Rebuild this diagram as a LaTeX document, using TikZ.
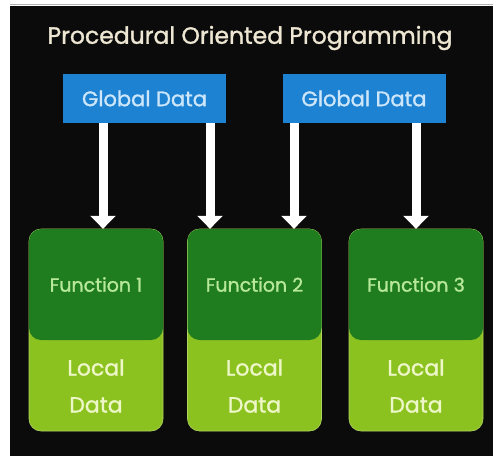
\documentclass[tikz,border=0pt]{standalone}
\usepackage{fontspec}
\setmainfont{Poppins}[FakeBold=1.3]
\usetikzlibrary{arrows.meta}
\definecolor{bgblack}{HTML}{0B0B0B}
\definecolor{gblue}{HTML}{1E82D2}
\definecolor{gbluetext}{HTML}{CDE6FA}
\definecolor{dgreen}{HTML}{1F7D1F}
\definecolor{lgreen}{HTML}{8CC21F}
\definecolor{ftext}{HTML}{B8E89C}
\definecolor{ltext}{HTML}{EEF7C8}
\definecolor{titletext}{HTML}{EDE6D2}
\tikzset{
  titlestyle/.style={text=titletext, font=\fontsize{23.5}{26}\selectfont, inner sep=0pt},
  globalbox/.style={fill=gblue, text=gbluetext, font=\fontsize{21}{24}\selectfont,
    minimum width=163pt, minimum height=49pt, inner sep=0pt},
  funcbox/.style={fill=dgreen, text=ftext, rounded corners=12pt, font=\fontsize{19}{22}\selectfont,
    minimum width=134pt, minimum height=111pt, inner sep=0pt},
  localbox/.style={fill=lgreen, draw=lgreen!70!white, line width=0.6pt, rounded corners=12pt,
    minimum width=134pt, minimum height=202pt, inner sep=0pt},
  localtext/.style={text=ltext, align=center, font=\fontsize{22}{37}\selectfont, inner sep=0pt},
  warrow/.style={draw=white, line width=9pt,
    -{Triangle[width=25pt,length=13pt,fill=white]}, shorten >=0pt}
}
\begin{document}
\begin{tikzpicture}[x=1pt,y=-1pt]
\useasboundingbox (0,0) rectangle (493,456);
\fill[white] (0,0) rectangle (493,456);
\fill[bgblack] (10,6) rectangle (493,456);
\draw[gray!60, line width=1pt] (10,4.5) -- (493,4.5);

\node[titlestyle] (title) at (250,38) {Procedural Oriented Programming};

\node[globalbox] (g1) at (144.5,98.5) {Global Data};
\node[globalbox] (g2) at (364,98.5) {Global Data};

\node[localbox] (l1) at (96,330) {};
\node[localbox] (l2) at (254.5,330) {};
\node[localbox] (l3) at (416,330) {};

\node[funcbox] (f1) at (96,284.5) {Function 1};
\node[funcbox] (f2) at (254.5,284.5) {Function 2};
\node[funcbox] (f3) at (416,284.5) {Function 3};

\node[localtext] (d1) at (96,386) {Local\\Data};
\node[localtext] (d2) at (254.5,386) {Local\\Data};
\node[localtext] (d3) at (416,386) {Local\\Data};

\coordinate (a1) at (103,0);
\coordinate (a2) at (210,0);
\coordinate (a3) at (294,0);
\coordinate (a4) at (416,0);

\draw[warrow] (g1.south -| a1) -- (f1.north -| a1);
\draw[warrow] (g1.south -| a2) -- (f2.north -| a2);
\draw[warrow] (g2.south -| a3) -- (f2.north -| a3);
\draw[warrow] (g2.south -| a4) -- (f3.north -| a4);
\end{tikzpicture}
\end{document}
